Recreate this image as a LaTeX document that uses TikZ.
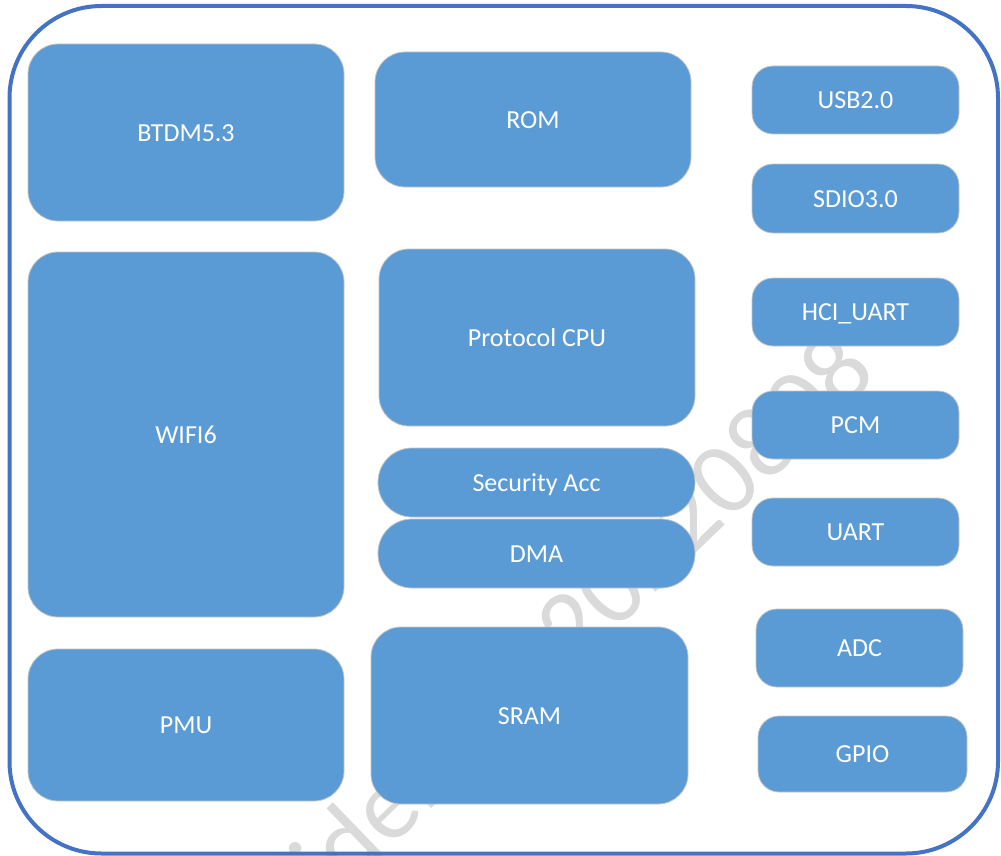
\documentclass[tikz,border=0pt]{standalone}
\usepackage{fontspec}
\setmainfont{Carlito}
\definecolor{boxblue}{HTML}{5B9BD5}
\definecolor{frameblue}{HTML}{4472C4}
\definecolor{boxedge}{HTML}{C4C4C4}
\definecolor{wmgray}{HTML}{DADADA}
\begin{document}
\begin{tikzpicture}[x=1pt,y=-1pt,
  blk/.style={draw=boxedge, line width=0.8pt, fill=boxblue, text=white,
    inner sep=0pt, text height=17.5pt, text depth=0pt,
    font=\fontsize{26}{30}\selectfont},
  bigblk/.style={blk, rounded corners=30pt},
  smallblk/.style={blk, rounded corners=21pt},
  pillblk/.style={blk, rounded corners=34pt},
  wm/.style={text=wmgray, inner sep=0pt, font=\fontsize{104}{120}\selectfont}]
\useasboundingbox (0,0) rectangle (1001,856);
\begin{scope}
\clip (0,0) rectangle (1001,856);
\node[wm, anchor=base west, rotate=44] (wmark) at (192,1040) {Confidential 20220808};
\end{scope}
\draw[frameblue, line width=4pt, rounded corners=92pt] (9.5,6) rectangle (998,853.5);
% left column
\node[bigblk, minimum width=316pt, minimum height=177pt] (btdm) at (186,132.5) {BTDM5.3};
\node[bigblk, minimum width=316pt, minimum height=365pt] (wifi) at (186,434.5) {WIFI6};
\node[bigblk, minimum width=316pt, minimum height=152pt] (pmu) at (186,725) {PMU};
% middle column
\node[bigblk, minimum width=316pt, minimum height=135pt] (rom) at (533,119.5) {ROM};
\node[bigblk, minimum width=316pt, minimum height=177pt] (cpu) at (537,337.5) {Protocol CPU};
\node[pillblk, minimum width=317pt, minimum height=69pt] (sec) at (536.5,482.5) {Security Acc};
\node[pillblk, minimum width=317pt, minimum height=69pt] (dma) at (536.5,553.5) {DMA};
\node[bigblk, minimum width=317pt, minimum height=177pt] (sram) at (529.5,715.5) {SRAM};
% right column
\node[smallblk, minimum width=207pt, minimum height=68pt] (usb) at (855.5,100) {USB2.0};
\node[smallblk, minimum width=207pt, minimum height=69pt] (sdio) at (855.5,198.5) {SDIO3.0};
\node[smallblk, minimum width=207pt, minimum height=68pt] (hci) at (855.5,312) {HCI\_UART};
\node[smallblk, minimum width=207pt, minimum height=68pt] (pcm) at (855.5,425) {PCM};
\node[smallblk, minimum width=207pt, minimum height=68pt] (uart) at (855.5,532) {UART};
\node[smallblk, minimum width=207pt, minimum height=78pt] (adc) at (859.5,648) {ADC};
\node[smallblk, minimum width=209pt, minimum height=76pt] (gpio) at (862.5,754) {GPIO};
\end{tikzpicture}
\end{document}
